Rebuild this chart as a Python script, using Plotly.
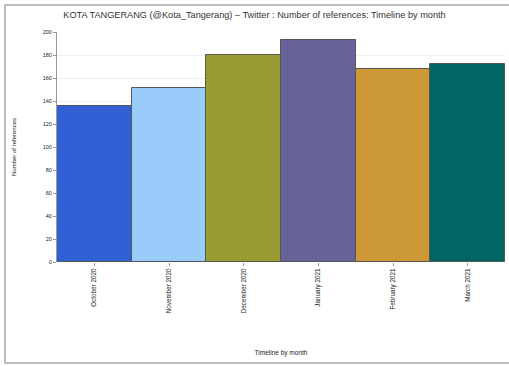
import plotly.graph_objects as go

# Monthly reference counts
months = ["October 2020", "November 2020", "December 2020",
          "January 2021", "February 2021", "March 2021"]
references = [136, 151, 180, 193, 168, 172]
bar_colors = ["#3160d4", "#99ccfb", "#999a30", "#676398", "#cd9936", "#026665"]

y_ticks = list(range(0, 201, 20))

W, H = 509, 366
ml, mr, mt, mb = 57, 4, 32, 104

fig = go.Figure(
    go.Bar(
        x=months,
        y=references,
        marker=dict(color=bar_colors, line=dict(color="#555555", width=1)),
        width=1,
    )
)

pw = W - ml - mr
ph = H - mt - mb

fig.update_layout(
    width=W,
    height=H,
    margin=dict(l=ml, r=mr, t=mt, b=mb),
    paper_bgcolor="white",
    plot_bgcolor="white",
    bargap=0,
    showlegend=False,
    font=dict(family="Liberation Sans, Arial, sans-serif", color="#222222"),
    title=dict(
        text="KOTA TANGERANG (@Kota_Tangerang) – Twitter : Number of references: Timeline by month",
        x=0.5, xanchor="center", y=1 - 15 / H, yanchor="middle",
        font=dict(size=9.2, color="#333333"),
    ),
    xaxis=dict(
        type="category",
        tickangle=-90,
        tickfont=dict(size=6.3),
        ticks="outside",
        ticklen=3,
        tickcolor="#999999",
        showline=False,
        showgrid=False,
        title=dict(text="Timeline by month", font=dict(size=6.5), standoff=38),
    ),
    yaxis=dict(
        range=[0, 200],
        tickvals=y_ticks,
        tickfont=dict(size=5.5),
        ticks="outside",
        ticklen=3,
        tickcolor="#999999",
        showline=True,
        linecolor="#999999",
        linewidth=1,
        showgrid=True,
        gridcolor="#eeeeee",
        gridwidth=1,
        zeroline=False,
        title=dict(text="Number of references", font=dict(size=6), standoff=25),
    ),
    shapes=[
        dict(
            type="rect", xref="paper", yref="paper",
            x0=(5 - ml) / pw, x1=(W + 5 - ml) / pw,
            y0=(H - mb - 363) / ph, y1=(H - mb - 5) / ph,
            line=dict(color="#aaaaaa", width=1.5),
            fillcolor="rgba(0,0,0,0)",
            layer="below",
        )
    ],
)

fig.write_html("out.html")
